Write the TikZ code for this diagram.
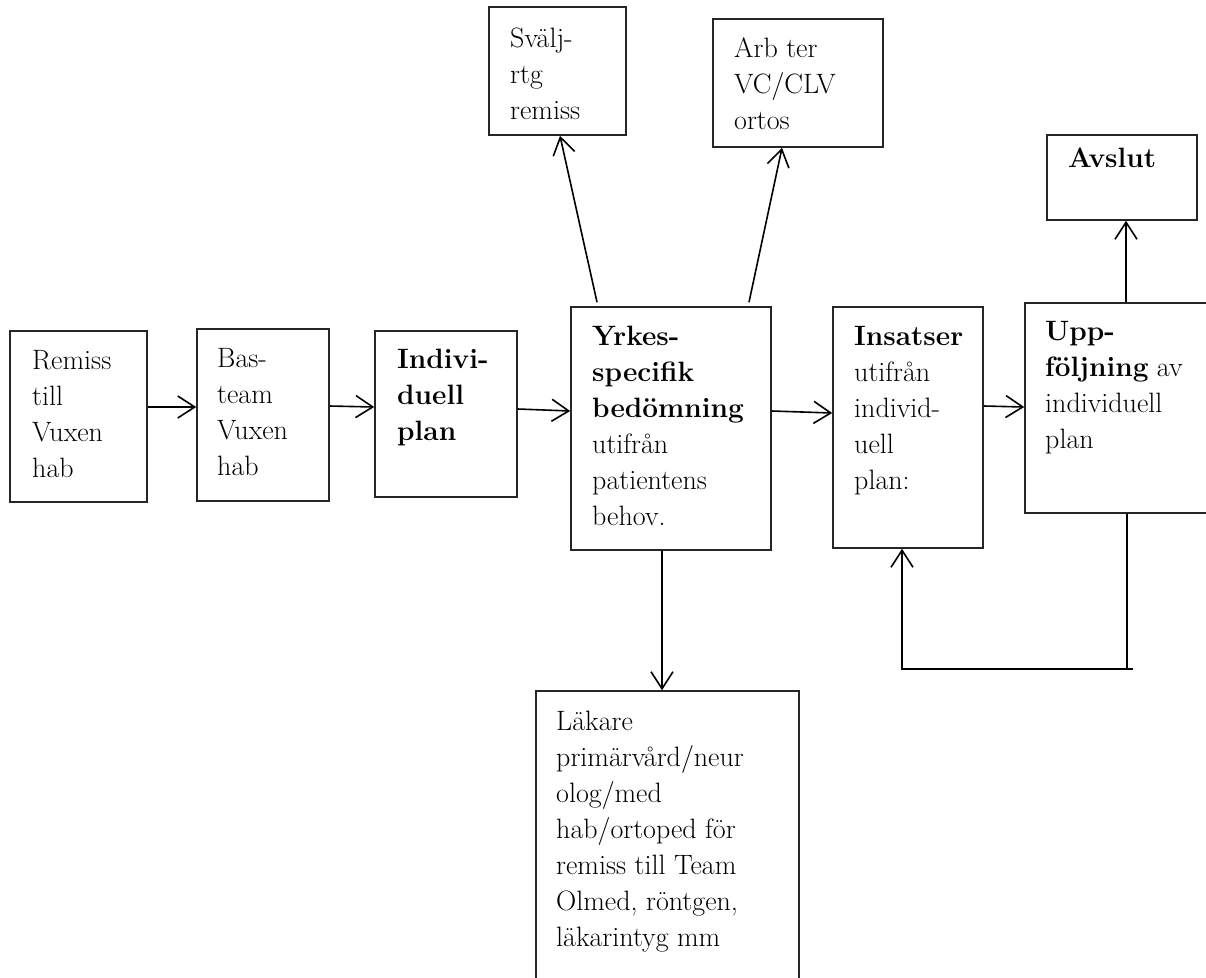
\documentclass[tikz,border=0pt]{standalone}
\usetikzlibrary{arrows.meta,calc}
\newcommand{\mystrut}{\rule{0pt}{20pt}}
\begin{document}
\lineskiplimit=-20pt
\begin{tikzpicture}[x=1pt,y=-1pt,
  box/.style={draw=black!85, line width=1.6pt, inner sep=0pt},
  txt/.style={anchor=north west, inner sep=0pt, align=left,
    font=\fontsize{28}{36}\selectfont},
  arr/.style={line width=1.6pt, -{Straight Barb[length=17pt,width=22pt,line width=1.6pt]}},
  lin/.style={line width=1.6pt}]
\useasboundingbox (0,0) rectangle (1206,977);
% boxes
\node[box, minimum width=137pt, minimum height=171pt] (remiss) at (78.5,416.5) {};
\node[box, minimum width=132pt, minimum height=172pt] (bas) at (263,415) {};
\node[box, minimum width=142pt, minimum height=166pt] (indiv) at (446,414) {};
\node[box, minimum width=200pt, minimum height=243pt] (yrkes) at (671,428.5) {};
\node[box, minimum width=150pt, minimum height=241pt] (insatser) at (908,427.5) {};
\node[box, minimum width=190pt, minimum height=210pt] (upp) at (1120,408) {};
\node[box, minimum width=150pt, minimum height=85pt] (avslut) at (1122,177.5) {};
\node[box, minimum width=137pt, minimum height=128pt] (svalj) at (557.5,71) {};
\node[box, minimum width=170pt, minimum height=128pt] (arb) at (798,83) {};
\node[box, minimum width=263pt, minimum height=300pt] (lakare) at (667.5,841) {};
% texts
\node[txt] (t1) at (32,349) {\mystrut Remiss\\till\\Vuxen\\hab};
\node[txt] (t2) at (217,347) {\mystrut Bas-\\team\\Vuxen\\hab};
\node[txt] (t3) at (397,348) {\mystrut\textbf{Indivi-}\\\textbf{duell}\\\textbf{plan}};
\node[txt] (t4) at (592,325) {\mystrut\textbf{Yrkes-}\\\textbf{specifik}\\\textbf{bedömning}\\utifrån\\patientens\\behov.};
\node[txt] (t5) at (854,325) {\mystrut\textbf{Insatser}\\utifrån\\individ-\\uell\\plan:};
\node[txt] (t6) at (1045,320) {\mystrut\textbf{Upp-}\\\textbf{följning} av\\individuell\\plan};
\node[txt] (t7) at (1068,147) {\mystrut\textbf{Avslut}};
\node[txt] (t8) at (510,27) {\mystrut Svälj-\\rtg\\remiss};
\node[txt] (t9) at (734,37) {\mystrut Arb ter\\VC/CLV\\ortos};
\node[txt] (t10) at (556,710) {\mystrut Läkare\\primärvård/neur\\olog/med\\hab/ortoped för\\remiss till Team\\Olmed, röntgen,\\läkarintyg mm};
% arrows
\draw[arr] ([yshift=9.5pt]remiss.east) -- ([yshift=8pt]bas.west);
\draw[arr] ([yshift=9pt]bas.east) -- ([yshift=7pt]indiv.west);
\draw[arr] ([yshift=5pt]indiv.east) -- ([yshift=17.5pt]yrkes.west);
\draw[arr] ([yshift=17.5pt]yrkes.east) -- ([yshift=14.5pt]insatser.west);
\draw[arr] ([yshift=21.5pt]insatser.east) -- ([yshift=1pt]upp.west);
\draw[arr] ([xshift=-74pt,yshift=4pt]yrkes.north) -- ([xshift=2.5pt]svalj.south);
\draw[arr] ([xshift=78pt,yshift=4pt]yrkes.north) -- ([xshift=-16pt]arb.south);
\draw[arr] ([xshift=6pt]upp.north) -- ([xshift=4pt]avslut.south);
\draw[arr] ([xshift=-9pt]yrkes.south) -- ([xshift=-5.5pt]lakare.north);
\coordinate (loopend) at (1133,669);
\draw[lin] ([xshift=7pt]upp.south) |- (loopend);
\draw[arr] (loopend) -| ([xshift=-6pt]insatser.south);
\end{tikzpicture}
\end{document}
